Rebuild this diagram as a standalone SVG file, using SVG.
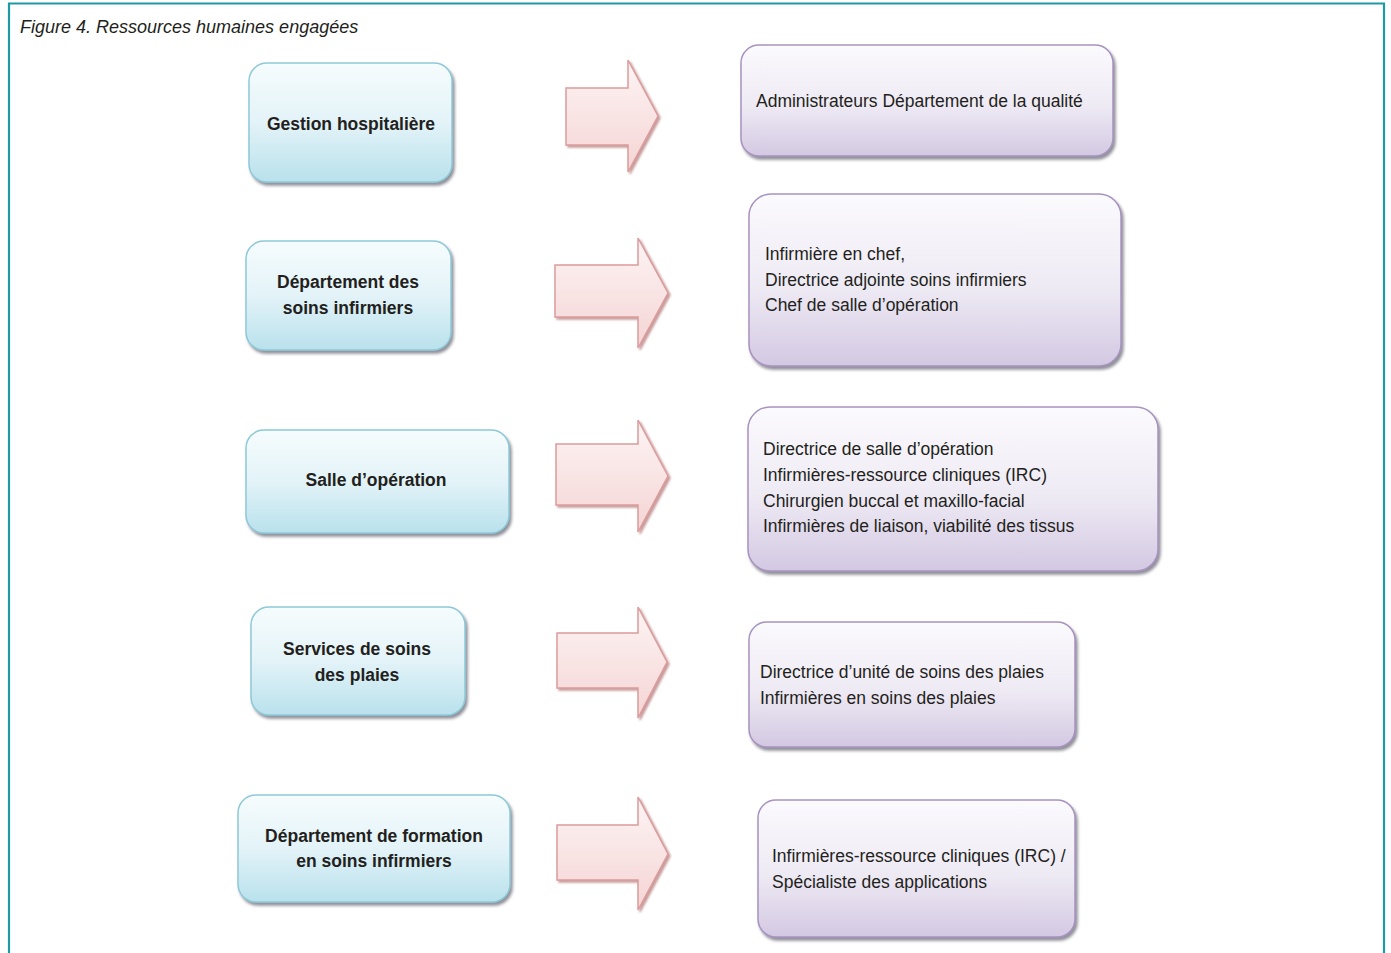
<svg xmlns="http://www.w3.org/2000/svg" width="1391" height="953" viewBox="0 0 1391 953">
<style>
.title{font-family:"Liberation Sans",Arial,sans-serif;font-style:italic;font-size:18px;fill:#231f20}
.lt{font-family:"Liberation Sans",Arial,sans-serif;font-weight:bold;font-size:17.5px;fill:#231f20;text-anchor:middle}
.rt{font-family:"Liberation Sans",Arial,sans-serif;font-size:17.5px;fill:#231f20}
.blue{fill:url(#gBlue);stroke:#8ec9d9;stroke-width:1.5;filter:url(#sh)}
.purple{fill:url(#gPurple);stroke:#a893c0;stroke-width:1.5;filter:url(#sh)}
.arrow{fill:url(#gPink);stroke:#dc9c9c;stroke-width:1.5;filter:url(#sh2)}
</style>
<defs>
<linearGradient id="gBlue" x1="0" y1="0" x2="0" y2="1">
<stop offset="0" stop-color="#f6fcfd"/><stop offset="0.5" stop-color="#e3f3f8"/><stop offset="1" stop-color="#b9e1ec"/>
</linearGradient>
<linearGradient id="gPurple" x1="0" y1="0" x2="0" y2="1">
<stop offset="0" stop-color="#fbfafd"/><stop offset="0.55" stop-color="#eeeaf4"/><stop offset="1" stop-color="#d3c8e2"/>
</linearGradient>
<linearGradient id="gPink" x1="0" y1="0" x2="0" y2="1">
<stop offset="0" stop-color="#fdf4f4"/><stop offset="1" stop-color="#f5d4d4"/>
</linearGradient>
<filter id="sh" x="-10%" y="-10%" width="125%" height="130%">
<feDropShadow dx="2" dy="3" stdDeviation="1.5" flood-color="#6b6b78" flood-opacity="0.75"/>
</filter>
<filter id="sh2" x="-10%" y="-10%" width="125%" height="130%">
<feDropShadow dx="2" dy="2" stdDeviation="1.2" flood-color="#b07070" flood-opacity="0.7"/>
</filter>
</defs>
<rect width="1391" height="953" fill="#ffffff"/>
<path d="M9,953 V3.5 H1384 V953" fill="none" stroke="#1e9aa5" stroke-width="2.2"/>
<text class="title" x="20" y="33">Figure 4. Ressources humaines engagées</text>

<g id="n1"><rect class="blue" x="249" y="63" width="203" height="119" rx="18"/><text class="lt" x="351" y="130">Gestion hospitalière</text></g>
<g id="n2"><rect class="blue" x="246" y="241" width="205" height="109" rx="18"/><text class="lt" x="348" y="288">Département des</text><text class="lt" x="348" y="314">soins infirmiers</text></g>
<g id="n3"><rect class="blue" x="246" y="430" width="263" height="103" rx="18"/><text class="lt" x="376" y="486">Salle d’opération</text></g>
<g id="n4"><rect class="blue" x="251" y="607" width="214" height="108" rx="18"/><text class="lt" x="357" y="655">Services de soins</text><text class="lt" x="357" y="681">des plaies</text></g>
<g id="n5"><rect class="blue" x="238" y="795" width="272" height="107" rx="18"/><text class="lt" x="374" y="842">Département de formation</text><text class="lt" x="374" y="867">en soins infirmiers</text></g>

<g id="connectors">
<path class="arrow" d="M566,88 H628 V60 L658,116 L628,172 V145 H566 Z"/>
<path class="arrow" d="M555,265 H638 V238 L668,293 L638,348 V317 H555 Z"/>
<path class="arrow" d="M556,444 H638 V420 L668,476 L638,532 V505 H556 Z"/>
<path class="arrow" d="M557,633 H638 V607 L667,662 L638,718 V688 H557 Z"/>
<path class="arrow" d="M557,825 H638 V797 L668,854 L638,910 V880 H557 Z"/>
</g>

<g id="r1"><rect class="purple" x="741" y="45" width="372" height="111" rx="18"/><text class="rt" x="756" y="107">Administrateurs Département de la qualité</text></g>
<g id="r2"><rect class="purple" x="749" y="194" width="372" height="172" rx="22"/><text class="rt" x="765" y="260">Infirmière en chef,</text><text class="rt" x="765" y="286">Directrice adjointe soins infirmiers</text><text class="rt" x="765" y="311">Chef de salle d’opération</text></g>
<g id="r3"><rect class="purple" x="748" y="407" width="410" height="164" rx="22"/><text class="rt" x="763" y="455">Directrice de salle d’opération</text><text class="rt" x="763" y="481">Infirmières-ressource cliniques (IRC)</text><text class="rt" x="763" y="507">Chirurgien buccal et maxillo-facial</text><text class="rt" x="763" y="532">Infirmières de liaison, viabilité des tissus</text></g>
<g id="r4"><rect class="purple" x="749" y="622" width="326" height="125" rx="18"/><text class="rt" x="760" y="678">Directrice d’unité de soins des plaies</text><text class="rt" x="760" y="704">Infirmières en soins des plaies</text></g>
<g id="r5"><rect class="purple" x="758" y="800" width="317" height="137" rx="18"/><text class="rt" x="772" y="862">Infirmières-ressource cliniques (IRC) /</text><text class="rt" x="772" y="888">Spécialiste des applications</text></g>
</svg>
